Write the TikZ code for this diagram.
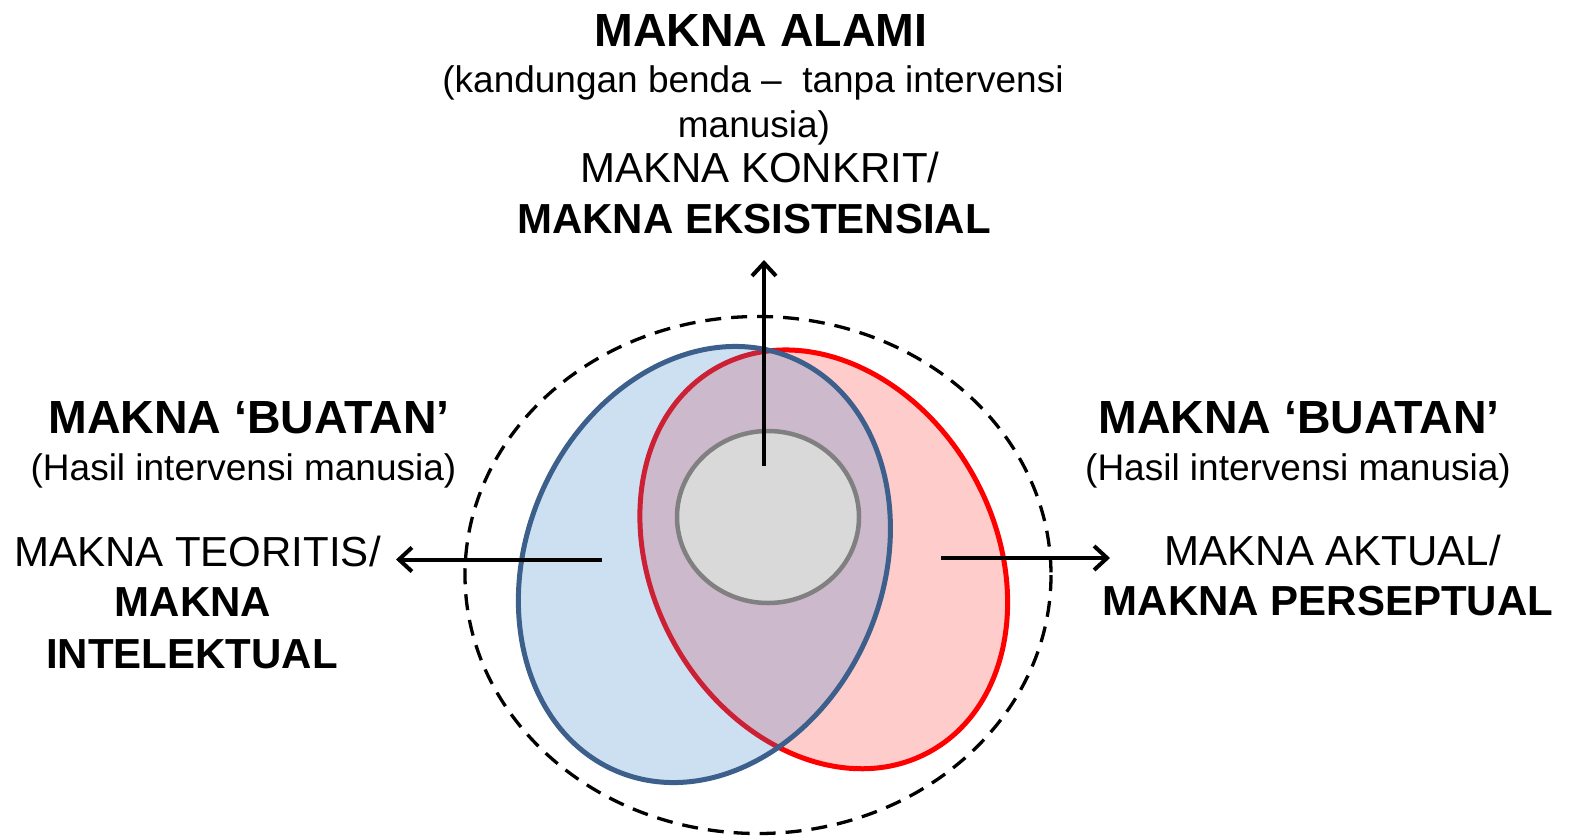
\documentclass[tikz,border=0pt]{standalone}
\usepackage{fontspec}
\setmainfont{Liberation Sans}
\usetikzlibrary{arrows.meta}
\definecolor{blueline}{RGB}{60,95,140}
\definecolor{bluefill}{RGB}{55,133,204}
\definecolor{redline}{RGB}{255,0,0}
\definecolor{pinkfill}{RGB}{255,204,204}
\definecolor{grayline}{RGB}{128,128,128}
\definecolor{grayfill}{RGB}{217,217,217}
\begin{document}
\begin{tikzpicture}[x=1pt,y=-1pt,
  txt/.style={inner sep=0pt, anchor=base},
  ttl/.style={txt, font=\fontsize{46.5}{50}\selectfont\bfseries},
  sub/.style={txt, font=\fontsize{37}{40}\selectfont},
  itm/.style={txt, font=\fontsize{42}{45}\selectfont},
  itmb/.style={txt, font=\fontsize{42}{45}\selectfont\bfseries},
  arr/.style={line width=4pt, -{Straight Barb[length=13pt,width=24pt]}},
  outer/.style={line width=3.3pt, dash pattern=on 16pt off 10pt},
]
\useasboundingbox (0,0) rectangle (1571,836);

% outer dashed ellipse
\draw[outer] (758,575) ellipse [x radius=293, y radius=258.5];

% red ellipse
\draw[redline, fill=pinkfill, line width=5pt, rotate around={28.9:(823.75,559.35)}]
  (823.75,559.35) ellipse [x radius=171.5, y radius=219.6];

% blue ellipse (semi-transparent fill)
\fill[bluefill, fill opacity=0.255, rotate around={-23.1:(704.4,564.5)}]
  (704.4,564.5) ellipse [x radius=178.1, y radius=224.5];
\draw[blueline, line width=5pt, rotate around={-23.1:(704.4,564.5)}]
  (704.4,564.5) ellipse [x radius=178.1, y radius=224.5];

% gray circle
\draw[grayline, fill=grayfill, line width=4.5pt] (768,517) ellipse [x radius=91, y radius=86];

% arrows
\coordinate (vs) at (764,466);
\coordinate (ve) at (764,260);
\coordinate (ls) at (602,559.5);
\coordinate (le) at (396,559.5);
\coordinate (rs) at (941,558);
\coordinate (re) at (1110,558);
\draw[arr] (vs) -- (ve);
\draw[arr] (ls) -- (le);
\draw[arr] (rs) -- (re);

% top block
\node[ttl] (t1) at (761,46.7) {MAKNA ALAMI};
\node[sub] (t2) at (753,92.5) {(kandungan benda --\ \ tanpa intervensi};
\node[sub] (t3) at (754,137.3) {manusia)};
\node[itm] (t4) at (760,182.7) {MAKNA KONKRIT/};
\node[itmb] (t5) at (754,233) {MAKNA EKSISTENSIAL};

% left block
\node[ttl] (l1) at (249,433.3) {MAKNA ‘BUATAN’};
\node[sub] (l2) at (243.5,480) {(Hasil intervensi manusia)};
\node[itm] (l3) at (197.5,566) {MAKNA TEORITIS/};
\node[itmb] (l4) at (193,616.7) {MAKNA};
\node[itmb] (l5) at (192,668.3) {INTELEKTUAL};

% right block
\node[ttl] (r1) at (1299,433.3) {MAKNA ‘BUATAN’};
\node[sub] (r2) at (1298,480) {(Hasil intervensi manusia)};
\node[itm] (r3) at (1333,565) {MAKNA AKTUAL/};
\node[itmb] (r4) at (1328,615) {MAKNA PERSEPTUAL};
\end{tikzpicture}
\end{document}
